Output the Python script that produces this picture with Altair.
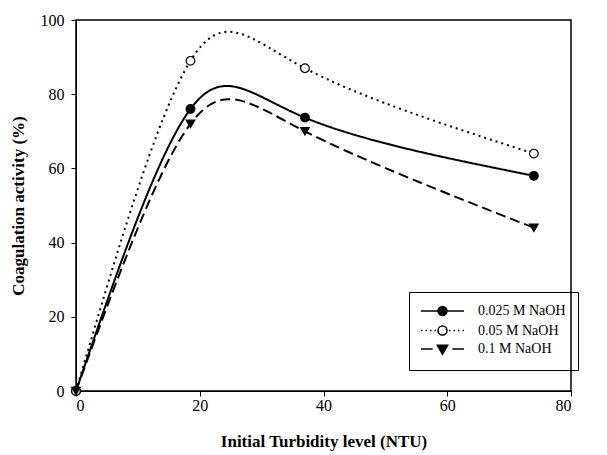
import altair as alt
import pandas as pd

turbidity = [0, 18.5, 37, 74]
naoh_0025 = [0, 76, 73.7, 58]
naoh_005 = [0, 89, 87, 64]
naoh_01 = [0, 72, 70, 44]
series = ["0.025 M NaOH", "0.05 M NaOH", "0.1 M NaOH"]

rows = []
for name, vals in zip(series, [naoh_0025, naoh_005, naoh_01]):
    for x, y in zip(turbidity, vals):
        rows.append({"x": x, "y": y, "series": name})
df = pd.DataFrame(rows)

FONT = "Liberation Serif"
xs = alt.Scale(domain=[0, 80], nice=False)
ys = alt.Scale(domain=[0, 100], nice=False)

# legend key glyphs (line sample + marker) as unit-space SVG paths
HALF = 4.78
CIRCLE = "M1,0A1,1,0,1,1,-1,0A1,1,0,1,1,1,0Z"
TRI = "M-1.15,-0.85L1.15,-0.85L0,1.15Z"


def segs(start, stop, on, off):
    out, p = [], start
    while p < stop - 1e-6:
        e = min(p + on, stop)
        out.append((p, e))
        p += on + off
    return out


def mirrored(inner, on, off):
    left = segs(-HALF, -inner, on, off)
    path = ""
    for a, b in left:
        path += f"M{a:.2f},0L{b:.2f},0M{-b:.2f},0L{-a:.2f},0"
    return path


key_solid = f"M{-HALF},0L{HALF},0" + CIRCLE
key_dotted = mirrored(1.3, 0.33, 0.67) + CIRCLE
key_dashed = mirrored(2.1, 2.6, 1.0) + TRI

base = alt.Chart(df)

line = base.mark_line(interpolate="natural", color="black", strokeWidth=2, clip=True).encode(
    x=alt.X("x:Q", scale=xs, axis=alt.Axis(title="Initial Turbidity level (NTU)", values=[0, 20, 40, 60, 80])),
    y=alt.Y("y:Q", scale=ys, axis=alt.Axis(title="Coagulation activity (%)", values=[0, 20, 40, 60, 80, 100])),
    strokeDash=alt.StrokeDash("series:N", scale=alt.Scale(domain=series, range=[[1, 0], [2, 4], [10, 5]]),
                              legend=None),
)

pts = base.mark_point(size=75, strokeWidth=1.2, color="black", opacity=1).encode(
    x="x:Q",
    y="y:Q",
    shape=alt.Shape("series:N", scale=alt.Scale(domain=series, range=["circle", "circle", "triangle-down"]),
                    legend=None),
    fill=alt.Fill("series:N", scale=alt.Scale(domain=series, range=["black", "white", "black"]), legend=None),
)

key_legend = alt.Legend(title=None, orient="none", legendX=333, legendY=272,
                        labelFont=FONT, labelFontSize=14, labelColor="black",
                        strokeColor="black", padding=12, symbolSize=81,
                        symbolStrokeWidth=1.5, symbolStrokeColor="black", symbolOpacity=1,
                        symbolOffset=14.5, labelOffset=28.5, rowPadding=3.5)

keys = base.mark_point(size=81, opacity=0).encode(
    x="x:Q",
    y="y:Q",
    shape=alt.Shape("series:N", scale=alt.Scale(domain=series, range=[key_solid, key_dotted, key_dashed]),
                    legend=key_legend),
    fill=alt.Fill("series:N", scale=alt.Scale(domain=series, range=["black", "white", "black"]),
                  legend=key_legend),
    stroke=alt.Stroke("series:N", scale=alt.Scale(domain=series, range=["black", "black", "black"]),
                      legend=key_legend),
)

chart = alt.layer(line, pts, keys).resolve_scale(
    shape="independent", fill="independent", stroke="independent"
).resolve_legend(shape="independent", fill="independent", stroke="independent").properties(
    width=495, height=371,
    padding={"left": 68, "top": 12, "right": 20, "bottom": 64},
    autosize=alt.AutoSizeParams(type="none"),
).configure_view(stroke="black", strokeWidth=1.5).configure_axis(
    labelFont=FONT, titleFont=FONT, labelFontSize=16, titleFontSize=17, titleFontWeight="bold",
    labelColor="black", titleColor="black", domainColor="black", tickColor="black",
    grid=False, tickSize=5,
).configure_axisX(titlePadding=20, labelPadding=1).configure_axisY(titlePadding=13, labelPadding=7)

chart.save("out.html", embed_options={"renderer": "svg", "actions": False})
